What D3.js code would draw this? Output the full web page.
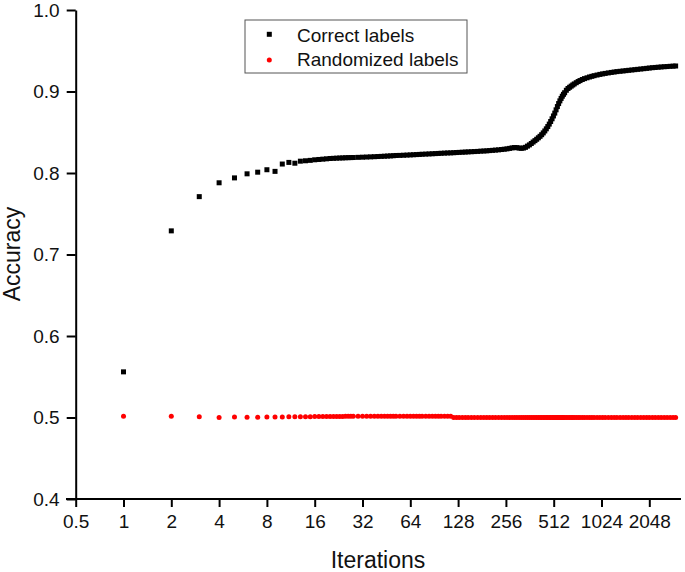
<!DOCTYPE html>
<html>
<head>
<meta charset="utf-8">
<script src="https://cdn.jsdelivr.net/npm/d3@7"></script>
<style>
  body { margin: 0; background: #fff; }
  text { font-family: "Liberation Sans", Arial, sans-serif; }
</style>
</head>
<body>
<div id="chart"></div>
<script>
// Iteration numbers that are plotted (shared by both series)
const iterations = [
  1, 2, 3, 4, 5, 6, 7, 8, 9, 10, 11, 12, 13, 14, 15, 16, 17, 18, 19, 20, 21, 22, 23, 24, 25, 26, 27, 28,
  30, 32, 34, 36, 38, 40, 42, 44, 46, 48, 50, 52,
  55, 58, 61, 64, 67, 70, 73, 76,
  80, 84, 88, 92, 96, 100,
  105, 110, 115, 120, 125, 130,
  136, 142, 148, 155, 162, 170, 178, 186, 194, 202,
  211, 220, 230, 240, 250, 260, 270, 280, 290, 300,
  310, 320, 330, 340, 350, 360, 370, 380, 390, 400, 410, 420, 430, 440, 450,
  460, 470, 480, 490, 500, 510, 520, 530, 540, 550, 560, 570, 580, 590, 600,
  615, 630, 645, 660, 675, 690,
  710, 730, 750, 775, 800,
  830, 860, 890, 920, 960, 1000,
  1040, 1080, 1130, 1180, 1230, 1280,
  1340, 1400, 1460, 1520, 1590, 1660, 1730,
  1810, 1890, 1970, 2048,
  2140, 2230, 2330, 2430, 2540, 2650, 2770, 2890, 3000
];

// Accuracy with correct labels
const correctAcc = [
  0.556, 0.729, 0.771, 0.788, 0.794, 0.799, 0.801, 0.804, 0.802, 0.811, 0.813, 0.812, 0.8145, 0.8150,
  0.8155, 0.8162, 0.8166, 0.8170, 0.8174, 0.8178, 0.8180, 0.8182, 0.8184, 0.8185, 0.8187, 0.8188, 0.8189, 0.8190,
  0.8192, 0.8194, 0.8196, 0.8198, 0.8200, 0.8202, 0.8204, 0.8206, 0.8208, 0.8210, 0.8212, 0.8215,
  0.8216, 0.8218, 0.8220, 0.8222, 0.8224, 0.8226, 0.8228, 0.8230,
  0.8232, 0.8234, 0.8236, 0.8238, 0.8240, 0.8242,
  0.8244, 0.8246, 0.8247, 0.8249, 0.8251, 0.8253,
  0.8255, 0.8257, 0.8259, 0.8261, 0.8263, 0.8265, 0.8268, 0.8270, 0.8272, 0.8275,
  0.8278, 0.8281, 0.8284, 0.8288, 0.8292, 0.8296, 0.8302, 0.8308, 0.8312, 0.8311,
  0.8306, 0.8303, 0.8306, 0.8315, 0.8330, 0.8345, 0.8362, 0.8380, 0.8397, 0.8414, 0.8432, 0.8450, 0.8470, 0.8492, 0.8516,
  0.8542, 0.8570, 0.8600, 0.8632, 0.8665, 0.8700, 0.8735, 0.8775, 0.8815, 0.8852, 0.8885, 0.8915, 0.8942, 0.8965, 0.8985,
  0.9015, 0.9037, 0.9052, 0.9066, 0.9080, 0.9093,
  0.9108, 0.9122, 0.9134, 0.9147, 0.9158,
  0.9168, 0.9178, 0.9186, 0.9194, 0.9202, 0.9210,
  0.9216, 0.9222, 0.9228, 0.9234, 0.9239, 0.9244,
  0.9248, 0.9252, 0.9256, 0.9260, 0.9264, 0.9268, 0.9272,
  0.9276, 0.9280, 0.9284, 0.9288,
  0.9292, 0.9295, 0.9298, 0.9301, 0.9304, 0.9306, 0.9309, 0.9311, 0.9313
];

// Accuracy with randomized labels
const randomAcc = [
  0.5015, 0.5015, 0.5008, 0.5000, 0.5005, 0.5003, 0.5004, 0.5005, 0.5006, 0.5007, 0.5008, 0.5008, 0.5009, 0.5010,
  0.5010, 0.5011, 0.5011, 0.5012, 0.5012, 0.5012, 0.5013, 0.5013, 0.5013, 0.5013, 0.5014, 0.5014, 0.5014, 0.5014,
  0.5014, 0.5014, 0.5015, 0.5014, 0.5015, 0.5014, 0.5015, 0.5014, 0.5015, 0.5014, 0.5015, 0.5014,
  0.5014, 0.5015, 0.5014, 0.5015, 0.5014, 0.5015, 0.5014, 0.5015,
  0.5014, 0.5015, 0.5014, 0.5015, 0.5014, 0.5015,
  0.5014, 0.5015, 0.5014, 0.4999, 0.4999, 0.4999,
  0.4999, 0.4999, 0.4999, 0.4999, 0.4999, 0.4999, 0.4999, 0.4999, 0.4999, 0.4999,
  0.4999, 0.4999, 0.4999, 0.4999, 0.4999, 0.4999, 0.4999, 0.4999, 0.4999, 0.4999,
  0.4999, 0.4999, 0.4999, 0.4999, 0.4999, 0.4999, 0.4999, 0.4999, 0.4999, 0.4999, 0.4999, 0.4999, 0.4999, 0.4999, 0.4999,
  0.4999, 0.4999, 0.4999, 0.4999, 0.4999, 0.4999, 0.4999, 0.4999, 0.4999, 0.4999, 0.4999, 0.4999, 0.4999, 0.4999, 0.4999,
  0.4999, 0.4999, 0.4999, 0.4999, 0.4999, 0.4999,
  0.4999, 0.4999, 0.4999, 0.4999, 0.4999,
  0.4999, 0.4999, 0.4999, 0.4999, 0.4999, 0.4999,
  0.4999, 0.4999, 0.4999, 0.4999, 0.4999, 0.4999,
  0.4999, 0.4999, 0.4999, 0.4999, 0.4999, 0.4999, 0.4999,
  0.4999, 0.4999, 0.4999, 0.4999,
  0.4999, 0.4999, 0.4999, 0.4999, 0.4999, 0.4999, 0.4999, 0.4999, 0.4999
];

const xTicks = [0.5, 1, 2, 4, 8, 16, 32, 64, 128, 256, 512, 1024, 2048];
const yTicks = [0.4, 0.5, 0.6, 0.7, 0.8, 0.9, 1.0];
const seriesNames = ["Correct labels", "Randomized labels"];

const W = 685, H = 572;
const svg = d3.select("#chart").append("svg")
  .attr("width", W)
  .attr("height", H);

// scales (log base 2 on iterations)
const x = d3.scaleLog().base(2).domain([0.5, 3243]).range([75.7, 681]);
const y = d3.scaleLinear().domain([0.4, 1.0]).range([499, 10]);

// x axis
const gx = svg.append("g")
  .attr("transform", "translate(0,499)")
  .call(d3.axisBottom(x).tickValues(xTicks).tickFormat(d => d).tickSize(8).tickSizeOuter(0).tickPadding(8));

// y axis
const gy = svg.append("g")
  .attr("transform", "translate(75.7,0)")
  .call(d3.axisLeft(y).tickValues(yTicks).tickFormat(d3.format(".1f")).tickSize(9).tickSizeOuter(0).tickPadding(7));

[gx, gy].forEach(g => {
  g.select(".domain").attr("stroke", "#000").attr("stroke-width", 2);
  g.selectAll(".tick line").attr("stroke", "#000").attr("stroke-width", 2);
  g.selectAll(".tick text").attr("fill", "#111").style("font-size", "19px")
    .style("font-family", '"Liberation Sans", Arial, sans-serif');
});
// x axis line runs a bit left of the y axis
gx.select(".domain").attr("d", "M66,0H681");

// randomized labels (red dots)
svg.append("g").selectAll("circle")
  .data(iterations)
  .enter().append("circle")
  .attr("cx", d => x(d))
  .attr("cy", (d, i) => y(randomAcc[i]))
  .attr("r", 2.5)
  .attr("fill", "#f00");

// correct labels (black squares)
const sq = 5;
svg.append("g").selectAll("rect")
  .data(iterations)
  .enter().append("rect")
  .attr("x", d => x(d) - sq / 2)
  .attr("y", (d, i) => y(correctAcc[i]) - sq / 2)
  .attr("width", sq)
  .attr("height", sq)
  .attr("fill", "#000");

// legend
const legend = svg.append("g").attr("transform", "translate(245,20)");
legend.append("rect")
  .attr("width", 222)
  .attr("height", 53)
  .attr("fill", "#fff")
  .attr("stroke", "#555")
  .attr("stroke-width", 1);
legend.append("rect")
  .attr("x", 24.3 - sq / 2).attr("y", 14.3 - sq / 2)
  .attr("width", sq).attr("height", sq).attr("fill", "#000");
legend.append("circle")
  .attr("cx", 24.3).attr("cy", 40).attr("r", 2.5).attr("fill", "#f00");
seriesNames.forEach((name, i) => {
  legend.append("text")
    .attr("x", 52)
    .attr("y", 21.5 + i * 24)
    .style("font-size", "19px")
    .attr("fill", "#111")
    .text(name);
});

// axis titles
svg.append("text")
  .attr("x", 378)
  .attr("y", 568)
  .attr("text-anchor", "middle")
  .style("font-size", "23px")
  .attr("fill", "#111")
  .text("Iterations");

svg.append("text")
  .attr("transform", "translate(20,254) rotate(-90)")
  .attr("text-anchor", "middle")
  .style("font-size", "23px")
  .attr("fill", "#111")
  .text("Accuracy");
</script>
</body>
</html>
